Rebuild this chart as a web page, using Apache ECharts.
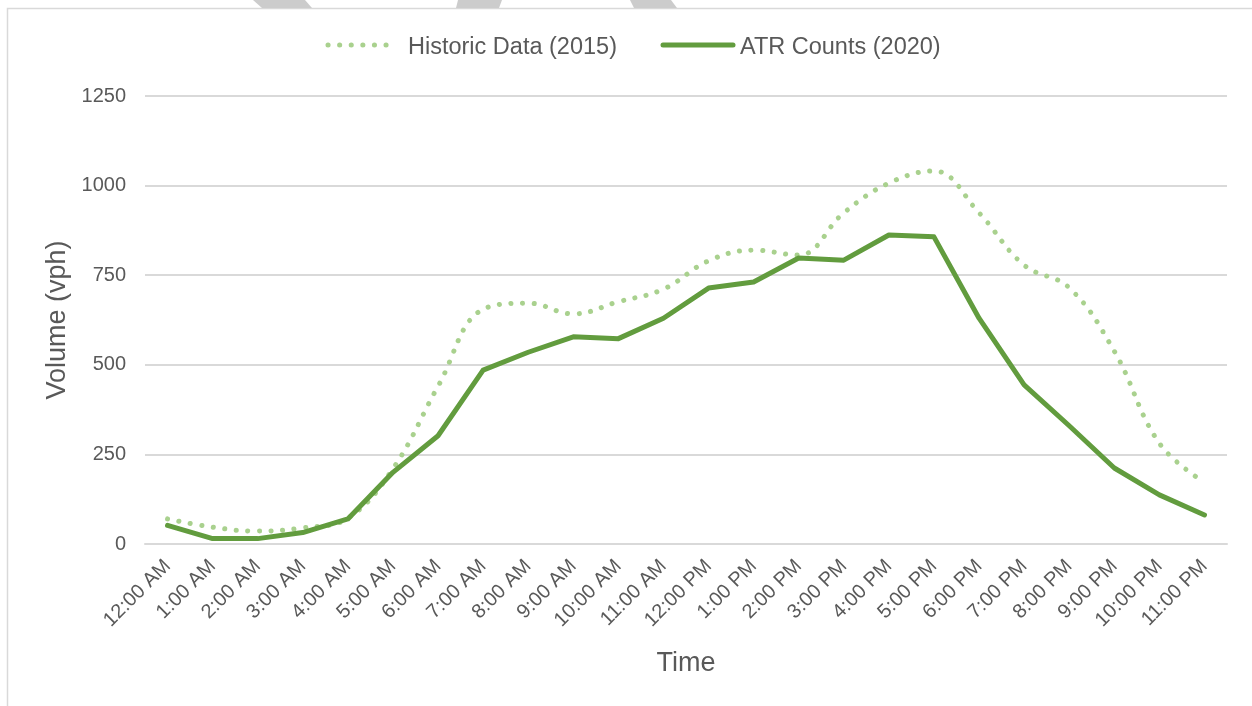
<!DOCTYPE html>
<html>
<head>
<meta charset="utf-8">
<script src="https://cdn.jsdelivr.net/npm/echarts@6/dist/echarts.min.js"></script>
<style>
  html, body { margin: 0; padding: 0; background: #ffffff; }
  #chart { width: 1252px; height: 706px; }
</style>
</head>
<body>
<div id="chart"></div>
<script>
// Hourly time labels
const hours = [
  '12:00 AM', '1:00 AM', '2:00 AM', '3:00 AM', '4:00 AM', '5:00 AM',
  '6:00 AM', '7:00 AM', '8:00 AM', '9:00 AM', '10:00 AM', '11:00 AM',
  '12:00 PM', '1:00 PM', '2:00 PM', '3:00 PM', '4:00 PM', '5:00 PM',
  '6:00 PM', '7:00 PM', '8:00 PM', '9:00 PM', '10:00 PM', '11:00 PM'
];

// Hourly volumes (vph)
const historic2015 = [
  70, 47, 36, 45, 72, 210, 440, 655, 672, 642, 676, 711,
  790, 820, 806, 924, 1007, 1041, 924, 778, 715, 538, 281, 172
];
const atr2020 = [
  52, 15, 15, 32, 70, 200, 302, 485, 535, 578, 573, 630,
  714, 731, 798, 792, 862, 857, 630, 444, 330, 212, 137, 81
];

const yTicks = [0, 250, 500, 750, 1000, 1250];

const FONT = '"Liberation Sans", Arial, sans-serif';
const TEXT = '#595959';
const GRID = '#d9d9d9';
const LIGHT_GREEN = '#a9d18e';
const DARK_GREEN = '#629c3e';

const chart = echarts.init(document.getElementById('chart'), null, { renderer: 'canvas' });

chart.setOption({
  animation: false,
  backgroundColor: '#ffffff',
  textStyle: { fontFamily: FONT },
  graphic: [
    // outer frame (top and left edges)
    {
      type: 'polyline', silent: true,
      shape: { points: [[7.5, 706], [7.5, 8.5], [1252, 8.5]] },
      style: { stroke: '#d9d9d9', lineWidth: 1.5, fill: null }
    },
    // grey bands along the top edge
    { type: 'polygon', silent: true,
      shape: { points: [[253, 0], [305, 0], [312, 8], [262, 8]] },
      style: { fill: '#cccccc' } },
    { type: 'polygon', silent: true,
      shape: { points: [[458, 0], [502, 0], [499, 8], [456, 8]] },
      style: { fill: '#cccccc' } },
    { type: 'polygon', silent: true,
      shape: { points: [[630, 0], [671, 0], [677, 8], [634, 8]] },
      style: { fill: '#cccccc' } },
    // legend line samples
    {
      type: 'line', silent: true, z: 10,
      shape: { x1: 328, y1: 45, x2: 391, y2: 45 },
      style: { stroke: LIGHT_GREEN, lineWidth: 5, lineDash: [0.1, 11.5], lineCap: 'round' }
    },
    {
      type: 'line', silent: true, z: 10,
      shape: { x1: 663, y1: 45, x2: 733, y2: 45 },
      style: { stroke: DARK_GREEN, lineWidth: 5, lineCap: 'round' }
    }
  ],
  legend: {
    top: 31,
    left: 326,
    itemGap: 46,
    itemWidth: 66,
    itemHeight: 14,
    icon: 'rect',
    itemStyle: { color: 'rgba(0,0,0,0)', borderWidth: 0 },
    textStyle: { fontFamily: FONT, fontSize: 23.5, color: TEXT, padding: [0, 0, 0, 6] },
    data: ['Historic Data (2015)', 'ATR Counts (2020)']
  },
  grid: { left: 145, right: 25, top: 96, bottom: 162, containLabel: false },
  xAxis: {
    type: 'category',
    data: hours,
    boundaryGap: true,
    name: 'Time',
    nameLocation: 'middle',
    nameGap: 106,
    nameTextStyle: { fontFamily: FONT, fontSize: 27, color: TEXT },
    axisLine: { show: true, lineStyle: { color: GRID, width: 2 } },
    axisTick: { show: false },
    axisLabel: {
      rotate: 45,
      interval: 0,
      margin: 19,
      fontFamily: FONT,
      fontSize: 20,
      color: TEXT
    },
    splitLine: { show: false }
  },
  yAxis: {
    type: 'value',
    min: yTicks[0],
    max: yTicks[yTicks.length - 1],
    interval: 250,
    name: 'Volume (vph)',
    nameLocation: 'middle',
    nameGap: 71,
    nameRotate: 90,
    nameTextStyle: { fontFamily: FONT, fontSize: 27, color: TEXT },
    axisLine: { show: false },
    axisTick: { show: false },
    axisLabel: {
      margin: 19,
      fontFamily: FONT,
      fontSize: 20,
      color: TEXT,
      formatter: (v) => String(v)
    },
    splitLine: { show: true, lineStyle: { color: GRID, width: 2 } }
  },
  series: [
    {
      name: 'Historic Data (2015)',
      type: 'line',
      data: historic2015,
      smooth: 0.4,
      showSymbol: false,
      symbol: 'none',
      color: LIGHT_GREEN,
      lineStyle: { color: LIGHT_GREEN, width: 5, type: [0.1, 11.5], cap: 'round' },
      z: 2
    },
    {
      name: 'ATR Counts (2020)',
      type: 'line',
      data: atr2020,
      smooth: false,
      showSymbol: false,
      symbol: 'none',
      color: DARK_GREEN,
      lineStyle: { color: DARK_GREEN, width: 5, cap: 'round', join: 'round' },
      z: 3
    }
  ]
});
</script>
</body>
</html>
